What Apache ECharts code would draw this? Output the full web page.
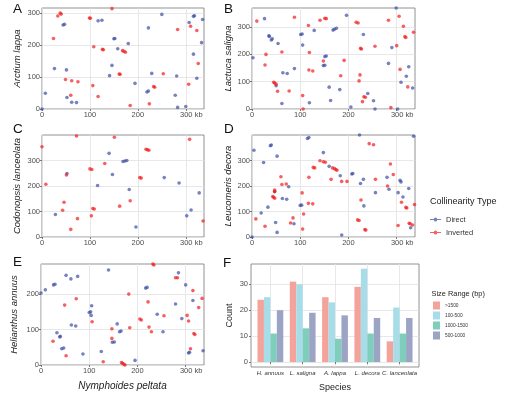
<!DOCTYPE html>
<html>
<head>
<meta charset="utf-8">
<script src="https://cdn.jsdelivr.net/npm/echarts@6/dist/echarts.min.js"></script>
<style>
html, body { margin: 0; padding: 0; background: #fff; }
#chart { width: 509px; height: 399px; }
</style>
</head>
<body>
<div id="chart"></div>
<script>
// collinear blocks, [position on N. peltata (kb), position on other genome (kb)]
var aDirect = [[0,0],[7,49],[26,126],[44,262],[47,264],[51,122],[52,36],[62,21],[72,20],[117,275],[125,277],[150,219],[152,220],[158,188],[180,204],[146,136],[141,104],[194,80],[219,53],[222,56],[222,253],[229,111],[250,295],[281,103],[278,43],[283,5],[300,8],[307,270],[316,289],[318,291],[316,171],[323,96],[333,207],[335,279]];
var aInverted = [[146,313],[33,290],[38,299],[40,296],[24,220],[99,284],[101,283],[108,194],[126,186],[128,185],[168,182],[171,180],[174,177],[161,109],[163,108],[49,92],[62,88],[75,85],[106,73],[117,39],[60,43],[184,11],[224,16],[233,70],[235,68],[253,110],[283,248],[310,258],[323,245],[326,142],[306,77]];

var bDirect = [[2,188],[26,331],[35,268],[36,266],[40,253],[42,257],[54,240],[50,85],[64,133],[73,130],[62,20],[88,148],[101,273],[104,275],[105,234],[119,23],[129,288],[151,192],[154,194],[148,159],[151,160],[160,80],[163,31],[168,289],[171,292],[175,296],[182,71],[196,343],[205,7],[231,273],[240,57],[252,30],[255,0],[283,167],[290,225],[299,370],[302,0],[309,98],[320,120],[325,155],[333,77]];
var bInverted = [[10,322],[27,161],[29,200],[45,98],[47,95],[50,91],[53,65],[62,209],[77,66],[88,336],[105,49],[106,0],[117,306],[119,207],[118,143],[126,139],[141,325],[151,332],[154,331],[148,176],[191,178],[184,122],[216,318],[220,315],[225,222],[227,220],[222,103],[224,125],[232,45],[235,43],[229,27],[255,230],[283,325],[288,5],[300,232],[305,340],[307,145],[314,303],[317,265],[319,262],[323,81],[335,281]];

var cDirect = [[28,88],[52,249],[116,202],[140,328],[147,245],[169,296],[173,298],[177,300],[182,186],[196,39],[255,233],[286,212],[302,83],[311,106],[328,173]];
var cInverted = [[0,354],[72,396],[151,391],[8,207],[51,243],[46,136],[43,105],[60,30],[74,72],[100,267],[104,265],[103,83],[106,112],[109,110],[131,288],[162,121],[184,142],[204,233],[207,231],[217,344],[220,342],[223,340],[308,383],[336,63]];

var dDirect = [[4,340],[0,0],[24,292],[38,358],[40,361],[52,317],[19,94],[33,117],[47,178],[49,57],[52,18],[63,151],[72,148],[76,197],[87,52],[100,124],[103,125],[115,386],[118,390],[148,331],[160,277],[183,240],[186,8],[207,247],[209,249],[223,400],[225,210],[231,226],[232,122],[256,174],[280,234],[284,187],[303,174],[307,222],[309,216],[313,157],[325,190],[329,36],[335,395]];
var dInverted = [[8,71],[27,42],[43,159],[45,156],[47,152],[47,184],[47,178],[60,236],[62,206],[71,208],[80,55],[85,75],[104,173],[107,90],[105,31],[118,234],[117,132],[126,130],[127,273],[130,271],[141,299],[148,295],[152,293],[164,226],[167,271],[171,268],[174,265],[176,262],[186,218],[197,218],[219,67],[222,65],[226,145],[234,29],[236,27],[243,366],[252,362],[256,226],[281,200],[287,286],[293,245],[303,45],[310,136],[319,116],[321,114],[326,54],[328,52],[333,47],[337,127]];

var eDirect = [[0,203],[9,212],[26,226],[29,228],[52,253],[62,243],[76,250],[33,91],[39,79],[40,81],[43,46],[47,48],[63,113],[72,110],[87,31],[100,148],[103,150],[105,167],[104,140],[125,38],[140,268],[148,64],[152,65],[158,116],[163,94],[166,96],[195,13],[217,217],[220,219],[241,143],[253,94],[279,172],[285,260],[292,131],[300,226],[306,34],[308,36],[315,182],[336,40]];
var eInverted = [[25,67],[49,169],[52,26],[73,187],[106,122],[129,9],[147,102],[147,75],[167,7],[169,5],[172,2],[174,0],[182,200],[184,105],[205,130],[208,127],[222,178],[224,107],[229,94],[232,285],[234,282],[255,139],[279,246],[283,246],[303,140],[306,124],[310,46],[315,210],[317,89],[319,86],[327,162],[334,188]];

// panel F
var species = ['H. annuus', 'L. saligna', 'A. lappa', 'L. decora', 'C. lanceolata'];
var sizeRanges = ['>1500', '100-500', '1000-1500', '500-1000'];
var countGt1500 = [24, 31, 25, 29, 8];
var count100to500 = [25, 30, 23, 36, 21];
var count1000to1500 = [11, 13, 9, 11, 11];
var count500to1000 = [20, 19, 18, 17, 17];
var countTicks = [0, 10, 20, 30];
var kbTicks = [0, 100, 200, 300];

var FONT = '"Liberation Sans", Arial, sans-serif';
var BLUE = '#3d4da3';
var RED = '#f21c1c';
var sizeColors = ['#f4a39a', '#a6dde9', '#7fcdbb', '#9ba4c4'];

var panels = [
    { letter: 'A', name: 'Arctium lappa', direct: aDirect, inverted: aInverted, yMax: 315, box: [42, 8, 162, 101], gap: 20, lt: [13, 2] },
    { letter: 'B', name: 'Lactuca saligna', direct: bDirect, inverted: bInverted, yMax: 370, box: [252, 8, 163, 101], gap: 19, lt: [224, 2] },
    { letter: 'C', name: 'Codonopsis lanceolata', direct: cDirect, inverted: cInverted, yMax: 400, box: [42, 135, 162, 102], gap: 20, lt: [13, 122] },
    { letter: 'D', name: 'Leucomeris decora', direct: dDirect, inverted: dInverted, yMax: 400, box: [252, 135, 163, 102], gap: 17, lt: [224, 122] },
    { letter: 'E', name: 'Helianthus annuus', direct: eDirect, inverted: eInverted, yMax: 285, box: [41, 264, 163, 101], gap: 22, lt: [13, 255] }
];

var grids = [], xAxes = [], yAxes = [], series = [], titles = [];

var tickStyle = { show: true, length: 2, lineStyle: { color: '#555', width: 0.8 } };
var gridLine = { show: true, lineStyle: { color: '#e2e2e2', width: 0.8 } };

panels.forEach(function(p, i) {
    grids.push({
        left: p.box[0], top: p.box[1], width: p.box[2], height: p.box[3],
        show: true, borderColor: '#777', borderWidth: 0.8, backgroundColor: 'transparent'
    });
    xAxes.push({
        gridIndex: i, type: 'value', min: 0, max: 338, interval: 100,
        name: i === 4 ? 'Nymphoides peltata' : '',
        nameLocation: 'middle', nameGap: 16,
        nameTextStyle: { fontStyle: 'italic', fontSize: 10, color: '#222', fontFamily: FONT },
        axisLine: { show: false },
        axisTick: { show: true, length: 2, customValues: kbTicks, lineStyle: { color: '#555', width: 0.8 } },
        axisLabel: {
            fontSize: 7.5, color: '#4d4d4d', margin: 2, fontFamily: FONT,
            customValues: kbTicks,
            formatter: function(v) {
                if (v === 300) return '{kb|300 kb}';
                return v;
            },
            rich: { kb: { fontSize: 7.5, color: '#4d4d4d', padding: [0, 0, 0, 11], fontFamily: FONT } }
        },
        splitLine: gridLine
    });
    yAxes.push({
        gridIndex: i, type: 'value', min: 0, max: p.yMax, interval: 100,
        name: p.name, nameLocation: 'middle', nameGap: p.gap,
        nameTextStyle: { fontStyle: 'italic', fontSize: 9.5, color: '#222', fontFamily: FONT },
        axisLine: { show: false },
        axisTick: { show: true, length: 2, customValues: kbTicks, lineStyle: { color: '#555', width: 0.8 } },
        axisLabel: { fontSize: 7.5, color: '#4d4d4d', margin: 2, fontFamily: FONT, customValues: kbTicks },
        splitLine: gridLine
    });
    series.push({
        type: 'scatter', name: 'Direct', xAxisIndex: i, yAxisIndex: i,
        data: p.direct, symbolSize: 3.6, itemStyle: { color: BLUE, opacity: 0.7 }, silent: true
    });
    series.push({
        type: 'scatter', name: 'Inverted', xAxisIndex: i, yAxisIndex: i,
        data: p.inverted, symbolSize: 3.6, itemStyle: { color: RED, opacity: 0.7 }, silent: true
    });
    titles.push({ text: p.letter, left: p.lt[0], top: p.lt[1], padding: 0,
        textStyle: { fontSize: 13.5, fontWeight: 'normal', color: '#111', fontFamily: FONT } });
});

// panel F, bar chart
grids.push({ left: 251, top: 264, width: 168, height: 103, show: true, borderColor: '#777', borderWidth: 0.8, backgroundColor: 'transparent' });
xAxes.push({
    gridIndex: 5, type: 'value', min: 0.4, max: 5.6,
    name: 'Species', nameLocation: 'middle', nameGap: 16,
    nameTextStyle: { fontSize: 9, color: '#222', fontFamily: FONT },
    axisLine: { show: false },
    axisTick: { show: true, length: 2, customValues: [1, 2, 3, 4, 5], lineStyle: { color: '#555', width: 0.8 } },
    axisLabel: {
        fontSize: 6, fontStyle: 'italic', color: '#333', margin: 3, fontFamily: FONT,
        customValues: [1, 2, 3, 4, 5],
        formatter: function(v) { return species[Math.round(v) - 1]; }
    },
    splitLine: gridLine
});
yAxes.push({
    gridIndex: 5, type: 'value', min: -1.9, max: 37.8,
    name: 'Count', nameLocation: 'middle', nameGap: 17,
    nameTextStyle: { fontSize: 9, color: '#222', fontFamily: FONT },
    axisLine: { show: false },
    axisTick: { show: true, length: 2, customValues: countTicks, lineStyle: { color: '#555', width: 0.8 } },
    axisLabel: { fontSize: 7.5, color: '#4d4d4d', margin: 3, fontFamily: FONT, customValues: countTicks },
    splitLine: gridLine
});
[countGt1500, count100to500, count1000to1500, count500to1000].forEach(function(arr, k) {
    series.push({
        type: 'bar', name: sizeRanges[k], xAxisIndex: 5, yAxisIndex: 5,
        data: arr.map(function(v, i) { return [i + 1, v]; }),
        barWidth: 6.45, barGap: '0%', silent: true,
        itemStyle: { color: sizeColors[k] }
    });
});

titles.push({ text: 'F', left: 223, top: 256, padding: 0,
    textStyle: { fontSize: 13.5, fontWeight: 'normal', color: '#111', fontFamily: FONT } });
titles.push({ text: 'Collinearity Type', left: 430, top: 197, padding: 0,
    textStyle: { fontSize: 9, fontWeight: 'normal', color: '#222', fontFamily: FONT } });
titles.push({ text: 'Size Range (bp)', left: 431.5, top: 290, padding: 0,
    textStyle: { fontSize: 7.4, fontWeight: 'normal', color: '#222', fontFamily: FONT } });

var lineDot = 'path://M0,4.5H4.2A1.8,1.8,0,0,1,7.8,4.5H12V5.5H7.8A1.8,1.8,0,0,1,4.2,5.5H0Z';

var myChart = echarts.init(document.getElementById('chart'), null, { renderer: 'canvas' });
var option = {
    backgroundColor: '#fff',
    animation: false,
    title: titles,
    grid: grids,
    xAxis: xAxes,
    yAxis: yAxes,
    legend: [{
        data: [{ name: 'Direct', icon: lineDot }, { name: 'Inverted', icon: lineDot }],
        orient: 'vertical', left: 430, top: 215.5, padding: 0,
        itemWidth: 11, itemHeight: 4.6, itemGap: 5, selectedMode: false,
        textStyle: { fontSize: 7.5, color: '#333', fontFamily: FONT }
    }, {
        data: sizeRanges,
        orient: 'vertical', left: 433, top: 301.5, padding: 0,
        itemWidth: 7, itemHeight: 8, itemGap: 2, icon: 'rect', selectedMode: false,
        textStyle: { fontSize: 4.8, color: '#333', fontFamily: FONT }
    }],
    series: series
};
myChart.setOption(option);
</script>
</body>
</html>
